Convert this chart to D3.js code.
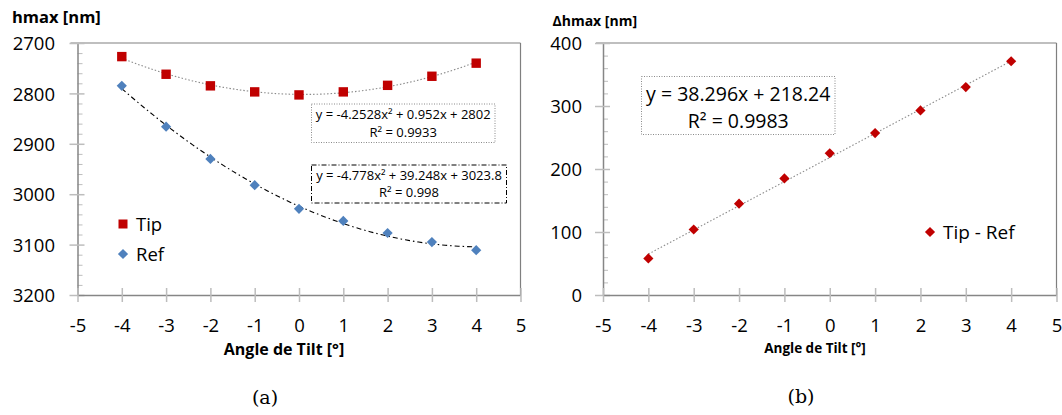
<!DOCTYPE html>
<html>
<head>
<meta charset="utf-8">
<script src="https://cdn.jsdelivr.net/npm/d3@7"></script>
<style>
  html, body { margin: 0; padding: 0; background: #fff; }
  svg { display: block; }
  text { font-family: "Open Sans", Lato, sans-serif; fill: #000; }
</style>
</head>
<body>
<svg id="chart" width="1062" height="415"></svg>
<script>
// ---- data ----
const angles = [-4, -3, -2, -1, 0, 1, 2, 3, 4];
const tipValues = [2727, 2762, 2785, 2797, 2803, 2797, 2784, 2766, 2740];
const refValues = [2785, 2866, 2930, 2982, 3029, 3053, 3077, 3095, 3111];
const diffValues = [58, 104, 145, 185, 225, 257, 293, 330, 371];
const tipFit = [-4.2528, 0.952, 2802];      // a x^2 + b x + c
const refFit = [-4.778, 39.248, 3023.8];
const diffFit = [38.296, 218.24];           // m x + q
const xTicks = [-5, -4, -3, -2, -1, 0, 1, 2, 3, 4, 5];
const leftYTicks = [2700, 2800, 2900, 3000, 3100, 3200];
const rightYTicks = [0, 100, 200, 300, 400];
const leftTitle = "hmax [nm]";
const rightTitle = "Δhmax [nm]";
const xTitle = "Angle de Tilt [°]";
const tipEq = ["y = -4.2528x² + 0.952x + 2802", "R² = 0.9933"];
const refEq = ["y = -4.778x² + 39.248x + 3023.8", "R² = 0.998"];
const diffEq = ["y = 38.296x + 218.24", "R² = 0.9983"];

const svg = d3.select("#chart");
const axisCol = "#868686", tickCol = "#bdbdbd", red = "#c00000", blue = "#4f81bd";
const FONT = "Open Sans";

function drawFrame(g, x, y, yTicks, yMinor, opts) {
  const [x0, x1] = x.range();
  const yr = y.range(); const yTop = Math.min(...yr), yBot = Math.max(...yr);
  g.append("line").attr("x1", x0 - 7).attr("x2", x1).attr("y1", yTop).attr("y2", yTop)
    .attr("stroke", "#bfbfbf").attr("stroke-width", 2);
  g.append("line").attr("x1", x1).attr("x2", x1).attr("y1", yTop).attr("y2", yBot)
    .attr("stroke", "#7f7f7f").attr("stroke-width", 1.2);
  const minor = g.append("g").attr("transform", `translate(${x0},0)`)
    .call(d3.axisRight(y).tickValues(yMinor).tickSize(5).tickFormat(""));
  minor.select(".domain").remove();
  minor.selectAll("line").attr("stroke", tickCol);
  const ya = g.append("g").attr("transform", `translate(${x0},0)`)
    .call(d3.axisLeft(y).tickValues(yTicks).tickSizeOuter(0).tickPadding(0).tickFormat(d3.format("d")));
  ya.select(".domain").attr("stroke", axisCol).attr("stroke-width", 1.5);
  ya.selectAll(".tick line").attr("x1", -8).attr("x2", 7).attr("stroke", tickCol).attr("stroke-width", 1.5);
  ya.selectAll(".tick text").attr("x", opts.yLabelX - x0).attr("dy", "0.36em")
    .style("font-family", FONT).style("font-size", opts.tickFont + "px").attr("fill", "#000");
  const xa = g.append("g").attr("transform", `translate(0,${yBot})`)
    .call(d3.axisBottom(x).tickValues(xTicks).tickSizeOuter(0).tickFormat(d3.format("d")));
  xa.select(".domain").attr("stroke", axisCol).attr("stroke-width", 1.5);
  xa.selectAll(".tick line").attr("y1", -7).attr("y2", 7).attr("stroke", tickCol).attr("stroke-width", 1.5);
  xa.selectAll(".tick text").attr("y", opts.xLabelDy).attr("dy", "0.36em")
    .style("font-family", FONT).style("font-size", opts.tickFont + "px").attr("fill", "#000")
    .text(d => d < 0 ? "-" + Math.abs(d) : d);
}

function eqBox(g, x0, y0, w, h, lines, dash, col, fs, base1, base2) {
  g.append("rect").attr("x", x0).attr("y", y0).attr("width", w).attr("height", h)
    .attr("fill", "#fff").attr("stroke", col).attr("stroke-width", 1).attr("stroke-dasharray", dash);
  g.append("text").attr("x", x0 + w / 2).attr("y", base1).attr("text-anchor", "middle")
    .style("font-size", fs + "px").text(lines[0]);
  g.append("text").attr("x", x0 + w / 2).attr("y", base2).attr("text-anchor", "middle")
    .style("font-size", fs + "px").text(lines[1]);
}

const fitX = d3.range(-4, 4.0001, 0.1);
const quad = (c, t) => c[0] * t * t + c[1] * t + c[2];
const diamondPath = d3.symbol().type(d3.symbolSquare).size(52);

// ================= Left chart (a) =================
{
  const g = svg.append("g");
  const x = d3.scaleLinear().domain([-5, 5]).range([77.5, 520.5]);
  const y = d3.scaleLinear().domain([2700, 3200]).range([43, 295]);
  const yMinor = d3.range(2700, 3200, 20).filter(v => v % 100 !== 0);
  drawFrame(g, x, y, leftYTicks, yMinor, { yLabelX: 55, tickFont: 18.5, xLabelDy: 30 });

  const line = d3.line().x(d => x(d[0])).y(d => y(d[1]));
  g.append("path").datum(fitX.map(t => [t, quad(tipFit, t)])).attr("d", line)
    .attr("fill", "none").attr("stroke", "#8a8a8a").attr("stroke-width", 1.1).attr("stroke-dasharray", "1.5,2");
  g.append("path").datum(fitX.map(t => [t, quad(refFit, t)])).attr("d", line)
    .attr("fill", "none").attr("stroke", "#000").attr("stroke-width", 1.1).attr("stroke-dasharray", "5,3,1.5,3");

  g.selectAll(".tip").data(angles).join("rect")
    .attr("x", d => x(d) - 4.7).attr("y", (d, i) => y(tipValues[i]) - 4.7)
    .attr("width", 9.4).attr("height", 9.4).attr("fill", red);
  g.selectAll(".ref").data(angles).join("path")
    .attr("transform", (d, i) => `translate(${x(d)},${y(refValues[i])}) rotate(45)`)
    .attr("d", diamondPath).attr("fill", blue);

  eqBox(g, 311.5, 104, 183.5, 38.5, tipEq, "1,1.5", "#8a8a8a", 13, 119, 136.5);
  eqBox(g, 311.5, 165, 195, 38, refEq, "5,2,1,2", "#000", 13, 180, 196.5);

  // legend
  g.append("rect").attr("x", 118.5).attr("y", 219.5).attr("width", 9).attr("height", 9).attr("fill", red);
  g.append("text").attr("x", 136).attr("y", 230.5).style("font-size", "18.5px").text("Tip");
  g.append("path").attr("transform", "translate(123,254) rotate(45)").attr("d", diamondPath).attr("fill", blue);
  g.append("text").attr("x", 136).attr("y", 260.5).style("font-size", "18.5px").text("Ref");

  g.append("text").attr("x", 12).attr("y", 23).style("font-size", "16.5px").style("font-weight", "bold").text(leftTitle);
  g.append("text").attr("x", 284).attr("y", 355).attr("text-anchor", "middle")
    .style("font-size", "16px").style("font-weight", "bold").text(xTitle);
  g.append("text").attr("x", 265).attr("y", 404).attr("text-anchor", "middle")
    .style("font-family", "DejaVu Serif").style("font-size", "19px").text("(a)");
}

// ================= Right chart (b) =================
{
  const g = svg.append("g");
  const x = d3.scaleLinear().domain([-5, 5]).range([603, 1056.5]);
  const y = d3.scaleLinear().domain([0, 400]).range([295, 43]);
  const yMinor = d3.range(0, 400, 20).filter(v => v % 100 !== 0);
  drawFrame(g, x, y, rightYTicks, yMinor, { yLabelX: 582, tickFont: 18.5, xLabelDy: 30 });

  const line = d3.line().x(d => x(d[0])).y(d => y(d[1]));
  g.append("path").datum([-4, 4].map(t => [t, diffFit[0] * t + diffFit[1]])).attr("d", line)
    .attr("fill", "none").attr("stroke", "#8a8a8a").attr("stroke-width", 1.1).attr("stroke-dasharray", "1.5,2");

  g.selectAll(".diff").data(angles).join("path")
    .attr("transform", (d, i) => `translate(${x(d)},${y(diffValues[i])}) rotate(45)`)
    .attr("d", diamondPath).attr("fill", red);

  eqBox(g, 641.5, 76.5, 193.5, 58, diffEq, "1,1.5", "#8a8a8a", 19.5, 101, 128);

  g.append("path").attr("transform", "translate(930,232) rotate(45)").attr("d", diamondPath).attr("fill", red);
  g.append("text").attr("x", 943).attr("y", 238.5).style("font-size", "19px").text("Tip - Ref");

  g.append("text").attr("x", 552.5).attr("y", 26).style("font-size", "14px").style("font-weight", "bold").text(rightTitle);
  g.append("text").attr("x", 815).attr("y", 353).attr("text-anchor", "middle")
    .style("font-size", "13.5px").style("font-weight", "bold").text(xTitle);
  g.append("text").attr("x", 801).attr("y", 403).attr("text-anchor", "middle")
    .style("font-family", "DejaVu Serif").style("font-size", "19px").text("(b)");
}
</script>
</body>
</html>
